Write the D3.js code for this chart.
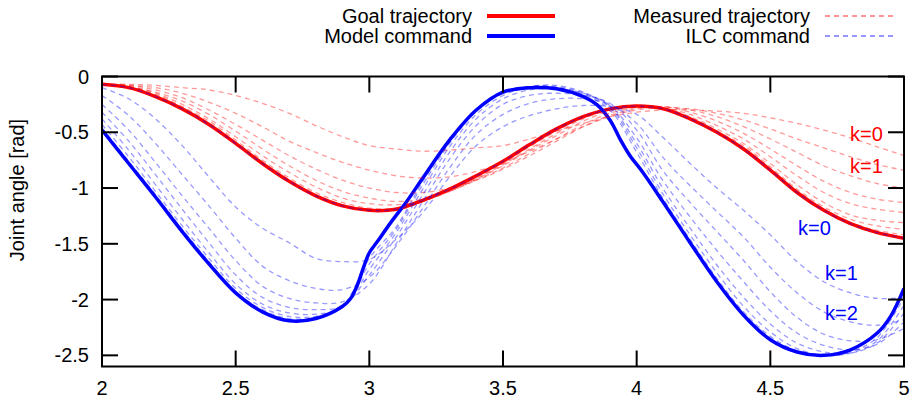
<!DOCTYPE html>
<html>
<head>
<meta charset="utf-8">
<script src="https://cdn.jsdelivr.net/npm/d3@7/dist/d3.min.js"></script>
<style>
  body { margin: 0; background: #fff; }
  text { font-family: "Liberation Sans", Arial, Helvetica, sans-serif; }
</style>
</head>
<body>
<div id="chart"></div>
<script>
// time grid used by the iteration curves
var iterT = [2.0,2.1,2.2,2.3,2.4,2.5,2.6,2.7,2.8,2.9,3.0,3.1,3.2,3.3,3.4,3.5,3.6,3.7,3.8,3.9,4.0,4.1,4.2,4.3,4.4,4.5,4.6,4.7,4.8,4.9,5.0];

var goal = [-0.07,-0.10,-0.18,-0.29,-0.43,-0.60,-0.78,-0.94,-1.07,-1.16,-1.20,-1.19,-1.11,-1.01,-0.89,-0.76,-0.61,-0.47,-0.36,-0.29,-0.265,-0.29,-0.38,-0.50,-0.65,-0.84,-1.04,-1.20,-1.32,-1.40,-1.45];

var modelT = [2.0,2.1,2.2,2.3,2.4,2.5,2.6,2.7,2.8,2.9,2.93,2.955,2.98,3.0,3.03,3.08,3.14,3.2,3.3,3.4,3.5,3.6,3.7,3.8,3.85,3.9,3.94,3.975,4.02,4.1,4.2,4.3,4.4,4.5,4.6,4.7,4.8,4.9,4.95,5.0];
var model = [-0.48,-0.78,-1.08,-1.39,-1.68,-1.94,-2.11,-2.19,-2.17,-2.06,-1.99,-1.87,-1.70,-1.58,-1.48,-1.31,-1.12,-0.91,-0.57,-0.30,-0.14,-0.10,-0.11,-0.18,-0.25,-0.39,-0.57,-0.71,-0.85,-1.13,-1.49,-1.84,-2.14,-2.36,-2.47,-2.50,-2.45,-2.30,-2.15,-1.90];

// measured trajectories, k = 0..7
var measured = [
  [-0.07,-0.07,-0.08,-0.10,-0.12,-0.17,-0.24,-0.33,-0.44,-0.54,-0.62,-0.65,-0.67,-0.66,-0.64,-0.62,-0.56,-0.49,-0.42,-0.36,-0.32,-0.30,-0.30,-0.31,-0.33,-0.37,-0.42,-0.48,-0.55,-0.63,-0.71],
  [-0.07,-0.08,-0.10,-0.15,-0.23,-0.33,-0.45,-0.58,-0.68,-0.77,-0.84,-0.89,-0.91,-0.90,-0.85,-0.77,-0.67,-0.56,-0.45,-0.36,-0.30,-0.28,-0.29,-0.33,-0.39,-0.47,-0.56,-0.64,-0.72,-0.79,-0.84],
  [-0.07,-0.08,-0.12,-0.19,-0.30,-0.43,-0.57,-0.71,-0.83,-0.93,-1.00,-1.04,-1.04,-1.00,-0.93,-0.83,-0.71,-0.58,-0.45,-0.35,-0.29,-0.27,-0.30,-0.36,-0.45,-0.56,-0.68,-0.80,-0.89,-0.96,-1.00],
  [-0.07,-0.09,-0.14,-0.22,-0.34,-0.49,-0.65,-0.80,-0.93,-1.03,-1.09,-1.12,-1.10,-1.03,-0.93,-0.82,-0.69,-0.56,-0.43,-0.33,-0.28,-0.27,-0.32,-0.40,-0.51,-0.65,-0.80,-0.94,-1.04,-1.10,-1.13],
  [-0.07,-0.09,-0.15,-0.25,-0.38,-0.54,-0.71,-0.86,-0.99,-1.09,-1.14,-1.15,-1.11,-1.03,-0.92,-0.80,-0.66,-0.53,-0.40,-0.31,-0.27,-0.28,-0.34,-0.44,-0.56,-0.72,-0.89,-1.04,-1.14,-1.19,-1.22],
  [-0.07,-0.09,-0.16,-0.27,-0.40,-0.57,-0.75,-0.91,-1.04,-1.13,-1.18,-1.18,-1.12,-1.03,-0.92,-0.79,-0.65,-0.51,-0.38,-0.30,-0.26,-0.28,-0.36,-0.47,-0.60,-0.78,-0.97,-1.13,-1.24,-1.29,-1.31],
  [-0.07,-0.10,-0.17,-0.28,-0.42,-0.59,-0.77,-0.93,-1.06,-1.15,-1.19,-1.19,-1.12,-1.02,-0.91,-0.78,-0.63,-0.49,-0.37,-0.29,-0.26,-0.28,-0.37,-0.49,-0.62,-0.81,-1.01,-1.17,-1.28,-1.34,-1.37],
  [-0.07,-0.10,-0.18,-0.29,-0.43,-0.60,-0.78,-0.94,-1.07,-1.16,-1.20,-1.20,-1.12,-1.02,-0.90,-0.77,-0.62,-0.48,-0.36,-0.29,-0.26,-0.29,-0.38,-0.50,-0.64,-0.83,-1.03,-1.19,-1.31,-1.38,-1.42]
];

// ILC commands, k = 0..7 (k=0 is the goal itself)
var ilc = [
  goal,
  [-0.10,-0.20,-0.38,-0.62,-0.90,-1.17,-1.36,-1.49,-1.63,-1.66,-1.64,-1.46,-1.22,-0.90,-0.62,-0.45,-0.35,-0.29,-0.26,-0.27,-0.34,-0.55,-0.78,-1.00,-1.20,-1.42,-1.66,-1.84,-1.94,-1.99,-1.98],
  [-0.17,-0.35,-0.60,-0.88,-1.16,-1.45,-1.70,-1.83,-1.90,-1.91,-1.80,-1.52,-1.18,-0.82,-0.52,-0.34,-0.24,-0.20,-0.20,-0.25,-0.42,-0.73,-0.98,-1.21,-1.44,-1.71,-1.94,-2.11,-2.20,-2.23,-2.18],
  [-0.25,-0.48,-0.77,-1.07,-1.36,-1.65,-1.88,-1.99,-2.03,-2.02,-1.86,-1.50,-1.12,-0.74,-0.44,-0.25,-0.17,-0.15,-0.17,-0.24,-0.48,-0.85,-1.13,-1.39,-1.65,-1.93,-2.16,-2.31,-2.37,-2.36,-2.26],
  [-0.32,-0.58,-0.88,-1.19,-1.49,-1.78,-1.98,-2.07,-2.09,-2.06,-1.78,-1.44,-1.06,-0.68,-0.38,-0.20,-0.12,-0.11,-0.15,-0.26,-0.55,-0.94,-1.26,-1.56,-1.84,-2.10,-2.30,-2.41,-2.45,-2.40,-2.20],
  [-0.38,-0.66,-0.97,-1.28,-1.58,-1.86,-2.04,-2.12,-2.13,-2.07,-1.73,-1.40,-1.01,-0.63,-0.34,-0.17,-0.09,-0.08,-0.14,-0.27,-0.60,-1.01,-1.36,-1.69,-1.98,-2.22,-2.39,-2.47,-2.48,-2.39,-2.12],
  [-0.43,-0.72,-1.03,-1.34,-1.63,-1.90,-2.07,-2.15,-2.15,-2.07,-1.68,-1.37,-0.97,-0.60,-0.31,-0.15,-0.09,-0.09,-0.15,-0.28,-0.64,-1.06,-1.42,-1.76,-2.06,-2.29,-2.44,-2.50,-2.48,-2.37,-2.05],
  [-0.46,-0.76,-1.06,-1.37,-1.66,-1.93,-2.09,-2.17,-2.16,-2.06,-1.63,-1.35,-0.94,-0.58,-0.30,-0.14,-0.09,-0.10,-0.16,-0.30,-0.68,-1.10,-1.46,-1.81,-2.11,-2.33,-2.46,-2.50,-2.47,-2.34,-1.98]
];

var xTicks = [2, 2.5, 3, 3.5, 4, 4.5, 5];
var yTicks = [0, -0.5, -1, -1.5, -2, -2.5];
var legendLeft = ["Goal trajectory", "Model command"];
var legendRight = ["Measured trajectory", "ILC command"];
var kLabelsRed = ["k=0", "k=1"];
var kLabelsBlue = ["k=0", "k=1", "k=2"];

var width = 919, height = 403;
var pLeft = 102, pRight = 904, pTop = 76.5, pBottom = 366.5;
var fs = 20;

var svg = d3.select("#chart").append("svg")
    .attr("width", width)
    .attr("height", height);

var x = d3.scaleLinear().domain([2, 5]).range([pLeft, pRight]);
var y = d3.scaleLinear().domain([-2.6, 0]).range([pBottom, pTop]);

svg.append("defs").append("clipPath").attr("id", "plotclip")
    .append("rect")
    .attr("x", pLeft).attr("y", pTop - 2)
    .attr("width", pRight - pLeft).attr("height", pBottom - pTop + 2);

var line = d3.line()
    .x(function(d) { return x(d[0]); })
    .y(function(d) { return y(d[1]); })
    .curve(d3.curveCatmullRom.alpha(0.5));

function pairs(ts, vs) {
    return ts.map(function(t, i) { return [t, vs[i]]; });
}

var plot = svg.append("g").attr("clip-path", "url(#plotclip)");

// thick reference curves
plot.append("path")
    .attr("d", line(pairs(iterT, goal)))
    .attr("fill", "none").attr("stroke", "#ff0000").attr("stroke-width", 3.5);
plot.append("path")
    .attr("d", line(pairs(modelT, model)))
    .attr("fill", "none").attr("stroke", "#0000ff").attr("stroke-width", 3.5);

// iterations
plot.selectAll(".meas")
    .data(measured)
    .enter().append("path")
    .attr("class", "meas")
    .attr("d", function(d) { return line(pairs(iterT, d)); })
    .attr("fill", "none")
    .attr("stroke", "rgba(255,0,0,0.4)")
    .attr("stroke-width", 1.3)
    .attr("stroke-dasharray", "5,4");

plot.selectAll(".ilc")
    .data(ilc)
    .enter().append("path")
    .attr("class", "ilc")
    .attr("d", function(d) { return line(pairs(iterT, d)); })
    .attr("fill", "none")
    .attr("stroke", "rgba(0,0,255,0.4)")
    .attr("stroke-width", 1.3)
    .attr("stroke-dasharray", "5,4");

// frame and ticks
var axes = svg.append("g").attr("stroke", "#000").attr("stroke-width", 2);
axes.append("rect")
    .attr("x", pLeft).attr("y", pTop)
    .attr("width", pRight - pLeft).attr("height", pBottom - pTop)
    .attr("fill", "none");

var tl = 16;
axes.selectAll(".xt-b").data(xTicks).enter().append("line")
    .attr("x1", function(d) { return x(d); }).attr("x2", function(d) { return x(d); })
    .attr("y1", pBottom).attr("y2", pBottom - tl);
axes.selectAll(".xt-t").data(xTicks).enter().append("line")
    .attr("x1", function(d) { return x(d); }).attr("x2", function(d) { return x(d); })
    .attr("y1", pTop).attr("y2", pTop + tl);
axes.selectAll(".yt-l").data(yTicks).enter().append("line")
    .attr("x1", pLeft).attr("x2", pLeft + tl)
    .attr("y1", function(d) { return y(d); }).attr("y2", function(d) { return y(d); });
axes.selectAll(".yt-r").data(yTicks).enter().append("line")
    .attr("x1", pRight).attr("x2", pRight - tl)
    .attr("y1", function(d) { return y(d); }).attr("y2", function(d) { return y(d); });

svg.selectAll(".xl").data(xTicks).enter().append("text")
    .attr("x", function(d) { return x(d); })
    .attr("y", 395)
    .attr("text-anchor", "middle")
    .attr("font-size", fs)
    .text(function(d) { return d; });

svg.selectAll(".yl").data(yTicks).enter().append("text")
    .attr("x", 89)
    .attr("y", function(d) { return y(d) + 7; })
    .attr("text-anchor", "end")
    .attr("font-size", fs)
    .text(function(d) { return d; });

svg.append("text")
    .attr("transform", "translate(24,190) rotate(-90)")
    .attr("text-anchor", "middle")
    .attr("font-size", fs)
    .text("Joint angle [rad]");

// legend
var lg = svg.append("g").attr("font-size", fs);
lg.selectAll(".ll").data(legendLeft).enter().append("text")
    .attr("x", 472).attr("y", function(d, i) { return 23 + i * 20; })
    .attr("text-anchor", "end")
    .text(function(d) { return d; });
lg.selectAll(".lr").data(legendRight).enter().append("text")
    .attr("x", 810).attr("y", function(d, i) { return 23 + i * 20; })
    .attr("text-anchor", "end")
    .text(function(d) { return d; });

var solid = ["#ff0000", "#0000ff"];
var dashed = ["rgba(255,0,0,0.55)", "rgba(0,0,255,0.55)"];
lg.selectAll(".ls").data(solid).enter().append("line")
    .attr("x1", 487).attr("x2", 555)
    .attr("y1", function(d, i) { return 16 + i * 20; })
    .attr("y2", function(d, i) { return 16 + i * 20; })
    .attr("stroke", function(d) { return d; })
    .attr("stroke-width", 4);
lg.selectAll(".ld").data(dashed).enter().append("line")
    .attr("x1", 825).attr("x2", 893)
    .attr("y1", function(d, i) { return 16 + i * 20; })
    .attr("y2", function(d, i) { return 16 + i * 20; })
    .attr("stroke", function(d) { return d; })
    .attr("stroke-width", 1.3)
    .attr("stroke-dasharray", "5,4");

// iteration labels
var kRedPos = [[850, 141], [850, 173]];
var kBluePos = [[798, 235], [825, 280], [825, 320]];
svg.selectAll(".kr").data(kLabelsRed).enter().append("text")
    .attr("x", function(d, i) { return kRedPos[i][0]; })
    .attr("y", function(d, i) { return kRedPos[i][1]; })
    .attr("font-size", fs).attr("fill", "#ff0000")
    .text(function(d) { return d; });
svg.selectAll(".kb").data(kLabelsBlue).enter().append("text")
    .attr("x", function(d, i) { return kBluePos[i][0]; })
    .attr("y", function(d, i) { return kBluePos[i][1]; })
    .attr("font-size", fs).attr("fill", "#0000ff")
    .text(function(d) { return d; });
</script>
</body>
</html>
